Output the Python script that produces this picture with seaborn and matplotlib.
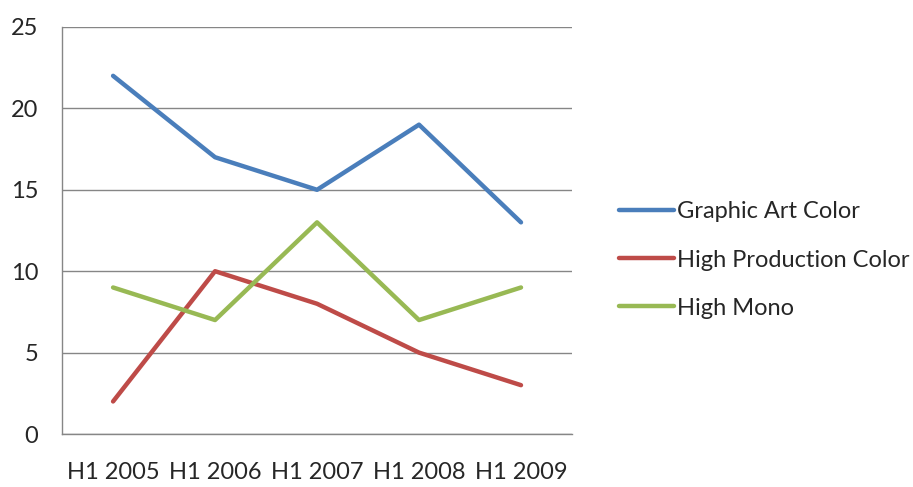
import pandas as pd
import matplotlib
matplotlib.use("Agg")
import matplotlib.pyplot as plt
import seaborn as sns

# 데이터
periods = ["H1 2005", "H1 2006", "H1 2007", "H1 2008", "H1 2009"]
graphic_art = [22, 17, 15, 19, 13]
high_prod = [2, 10, 8, 5, 3]
high_mono = [9, 7, 13, 7, 9]

series_names = ["Graphic Art Color", "High Production Color", "High Mono"]
colors = ["#4A7EBB", "#BE4B48", "#98B954"]

df = pd.DataFrame({
    "period": periods * 3,
    "value": graphic_art + high_prod + high_mono,
    "series": [series_names[0]] * 5 + [series_names[1]] * 5 + [series_names[2]] * 5,
})

sns.set_style("white")
plt.rcParams["font.family"] = ["Lato", "DejaVu Sans"]

fig = plt.figure(figsize=(9.13, 4.87), dpi=100)
ax = fig.add_axes([0.068, 0.1088, 0.5585, 0.8358])

sns.lineplot(data=df, x="period", y="value", hue="series", palette=colors,
             linewidth=3.2, ax=ax, sort=False)

ax.set_ylim(0, 25)
ax.set_yticks(range(0, 26, 5))
ax.set_xlim(-0.5, 4.5)
ax.set_xticks(range(5))
ax.set_xticklabels(periods)
ax.set_xticks([i - 0.5 for i in range(6)], minor=True)
ax.tick_params(axis="x", which="major", length=0, pad=20, labelsize=17)
ax.tick_params(axis="x", which="minor", length=8, width=1, color="#868686", direction="out")
ax.tick_params(axis="y", length=7, width=1, color="#868686", direction="out", labelsize=17, pad=10)
ax.grid(axis="y", color="#868686", linewidth=1)
ax.set_axisbelow(True)
ax.set_xlabel("")
ax.set_ylabel("")

for side in ["top", "right"]:
    ax.spines[side].set_visible(False)
for side in ["left", "bottom"]:
    ax.spines[side].set_color("#868686")
    ax.spines[side].set_linewidth(1)

ax.legend(title=None, frameon=False, loc="center left",
          bbox_to_anchor=(0.655, 0.466), bbox_transform=fig.transFigure,
          fontsize=17, handlelength=2.3, handletextpad=0.15, labelspacing=1.15)

fig.savefig("out.png", dpi=100)
